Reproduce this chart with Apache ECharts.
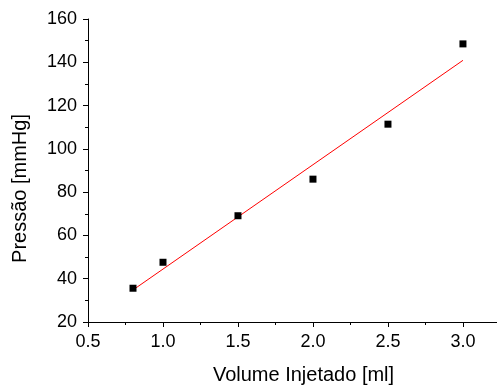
<!DOCTYPE html>
<html>
<head>
<meta charset="utf-8">
<script src="https://cdn.jsdelivr.net/npm/echarts@6/dist/echarts.min.js"></script>
<style>
  html, body { margin: 0; padding: 0; background: #fff; }
  #chart { width: 497px; height: 387px; }
</style>
</head>
<body>
<div id="chart"></div>
<script>
// measured points (volume injected, pressure)
const volumes = [0.8, 1.0, 1.5, 2.0, 2.5, 3.0];
const pressures = [35.6, 47.6, 69.1, 86.0, 111.4, 148.5];
// linear fit end points
const fitX = [0.8, 3.0];
const fitY = [34.8, 140.9];

const FONT = '"Liberation Sans", Arial, sans-serif';

const chart = echarts.init(document.getElementById('chart'), null, { renderer: 'canvas' });

const axisCommon = {
  axisLine: { onZero: false, lineStyle: { color: '#000', width: 1 } },
  axisTick: { inside: false, length: 5, lineStyle: { color: '#000' } },
  minorTick: { show: true, splitNumber: 2, length: 3, lineStyle: { color: '#000' } },
  splitLine: { show: false },
  nameTextStyle: { color: '#000', fontFamily: FONT, fontSize: 20 },
};

chart.setOption({
  animation: false,
  backgroundColor: '#fff',
  grid: { left: 88, top: 19, right: 0, bottom: 65, containLabel: false, outerBoundsMode: 'none' },
  xAxis: {
    ...axisCommon,
    type: 'value',
    min: 0.5,
    max: 3.227,
    interval: 0.5,
    name: 'Volume Injetado [ml]',
    nameLocation: 'middle',
    nameGap: 43,
    nameTextStyle: { ...axisCommon.nameTextStyle, padding: [0, 0, 0, 22] },
    axisLabel: {
      color: '#000', fontFamily: FONT, fontSize: 18, margin: 11,
      showMaxLabel: false,
      formatter: v => v.toFixed(1),
    },
  },
  yAxis: {
    ...axisCommon,
    type: 'value',
    min: 20,
    max: 160,
    interval: 20,
    name: 'Pressão [mmHg]',
    nameLocation: 'middle',
    nameGap: 58,
    nameTextStyle: { ...axisCommon.nameTextStyle, padding: [0, 36, 0, 0] },
    axisLabel: { color: '#000', fontFamily: FONT, fontSize: 18, margin: 11 },
  },
  series: [
    {
      name: 'Ajuste',
      type: 'line',
      data: fitX.map((x, i) => [x, fitY[i]]),
      showSymbol: false,
      symbol: 'none',
      lineStyle: { color: '#ff0000', width: 1 },
      z: 2,
    },
    {
      name: 'Dados',
      type: 'scatter',
      data: volumes.map((x, i) => [x, pressures[i]]),
      symbol: 'rect',
      symbolSize: 7,
      itemStyle: { color: '#000', opacity: 1 },
      z: 3,
    },
  ],
});
</script>
</body>
</html>
